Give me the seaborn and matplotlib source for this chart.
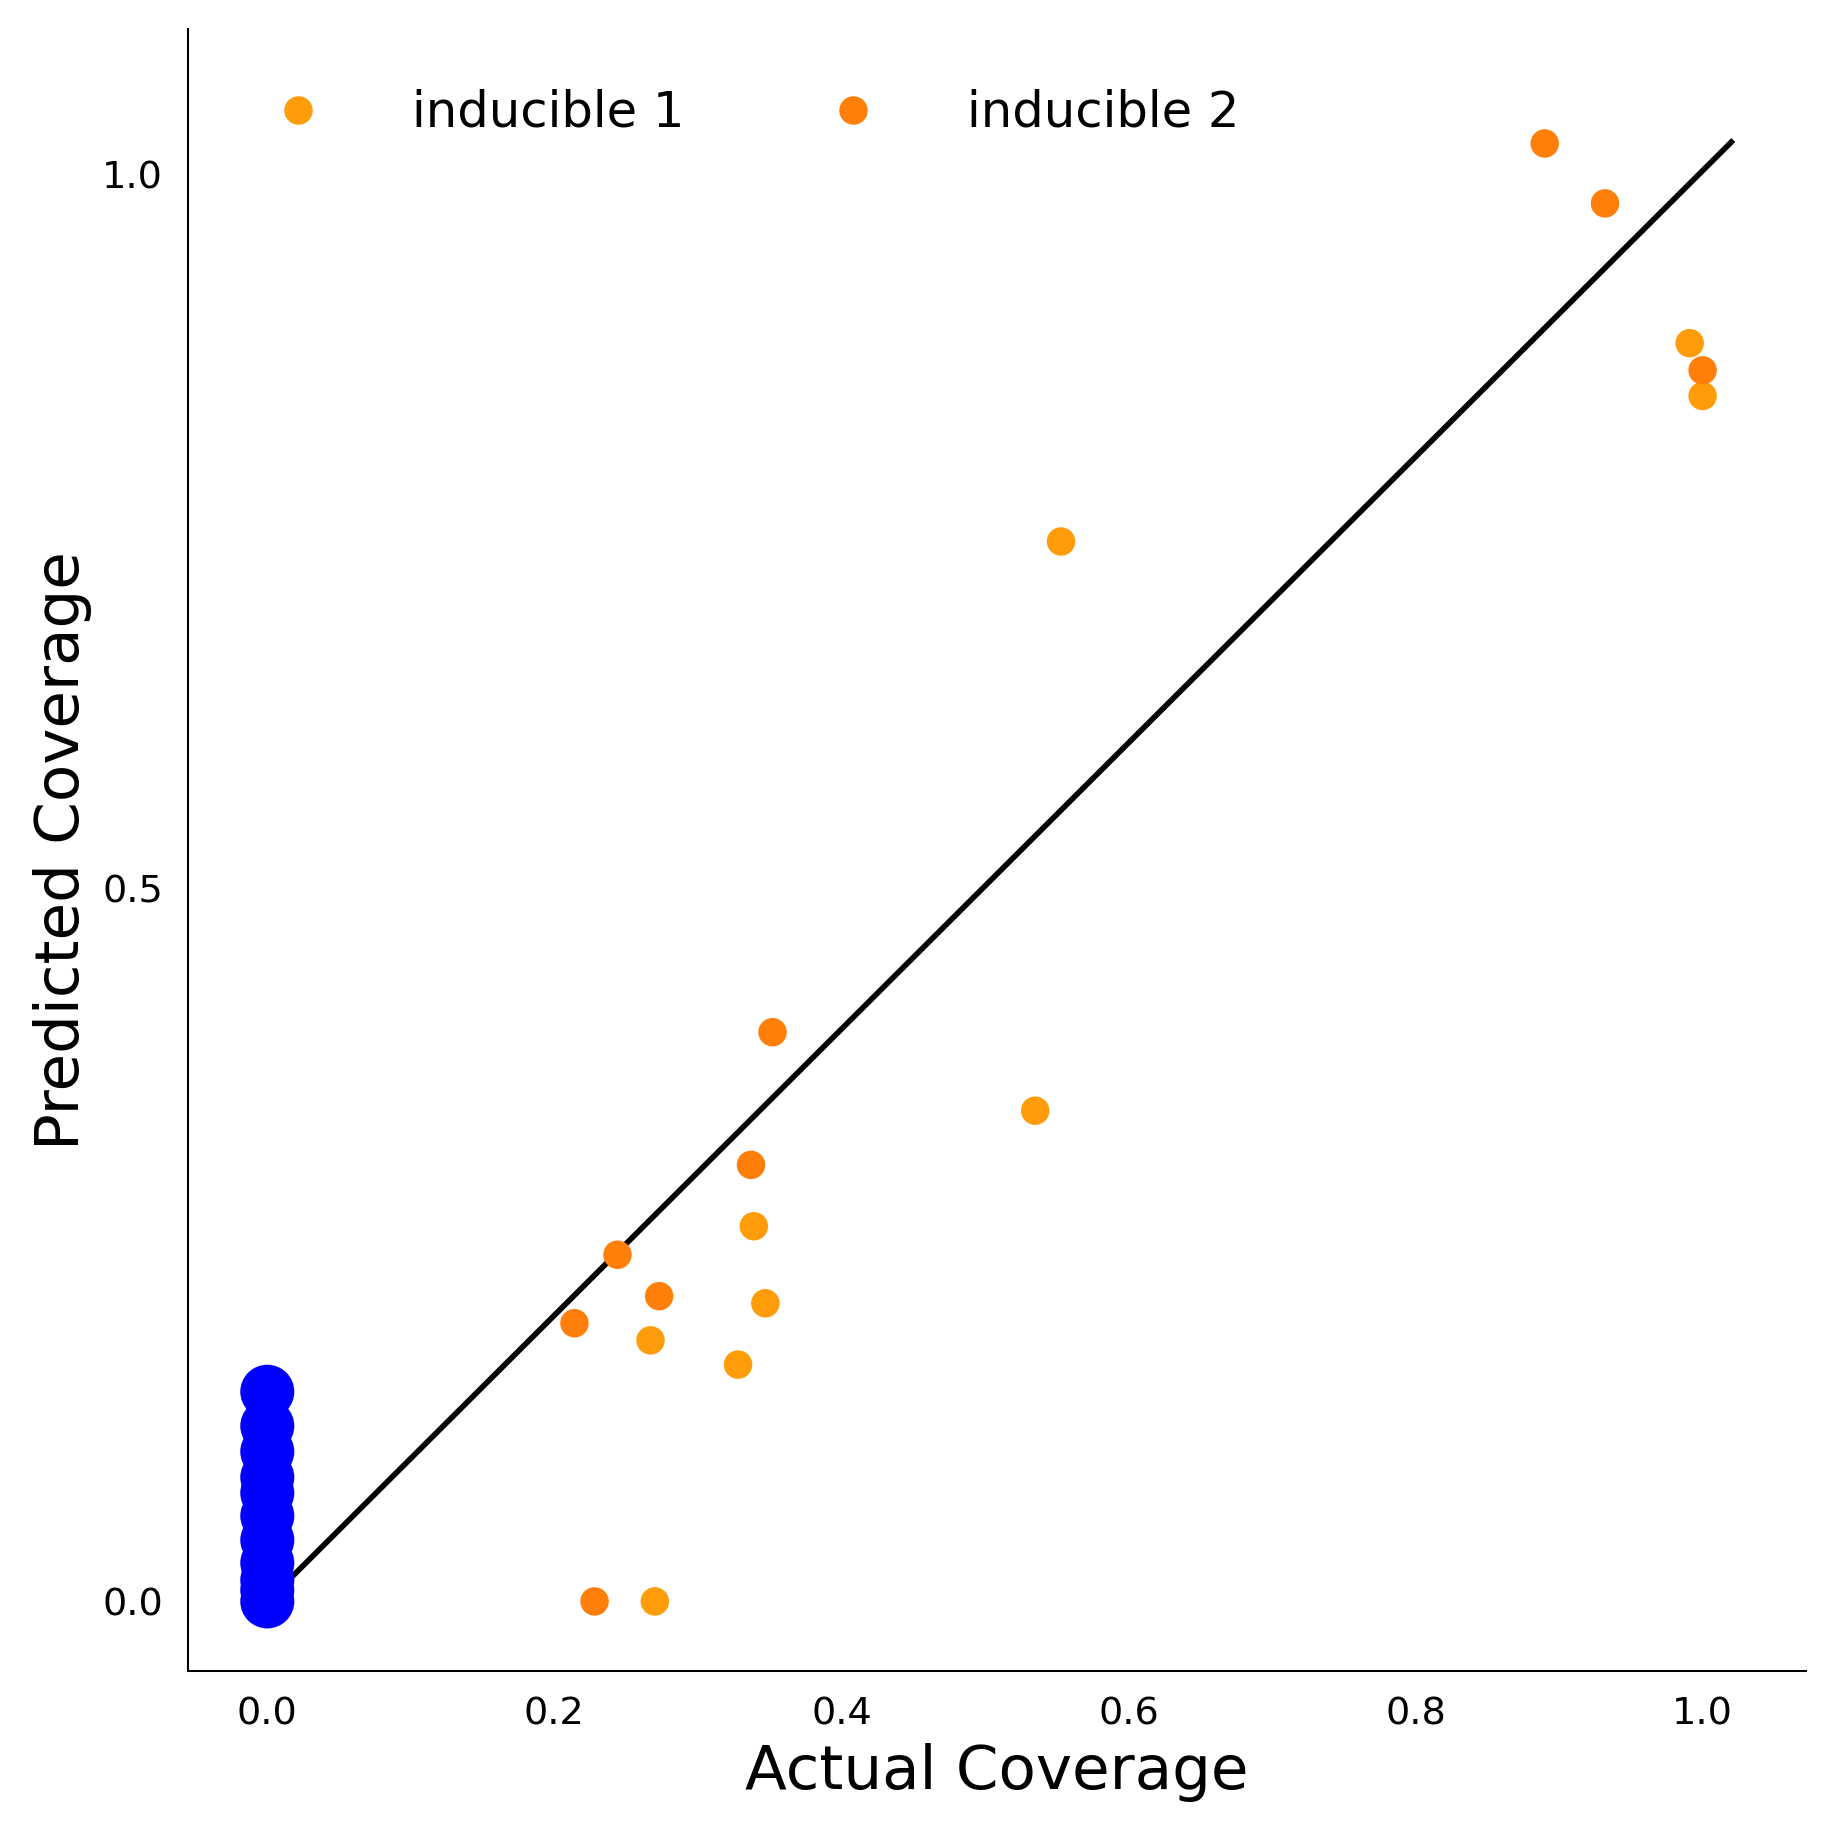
import matplotlib
matplotlib.use("Agg")
import matplotlib.pyplot as plt
import seaborn as sns
import pandas as pd

ind1_x = [0.991, 1.0, 0.553, 0.535, 0.339, 0.347, 0.267, 0.328, 0.270]
ind1_y = [0.882, 0.845, 0.743, 0.344, 0.263, 0.209, 0.183, 0.166, 0.0]
ind2_x = [0.890, 0.932, 1.0, 0.352, 0.337, 0.244, 0.273, 0.214, 0.228]
ind2_y = [1.022, 0.980, 0.863, 0.399, 0.306, 0.243, 0.214, 0.195, 0.0]
blue_y = [0.147, 0.123, 0.105, 0.087, 0.076, 0.060, 0.043, 0.027, 0.015, 0.008, 0.0]
blue_x = [0.0] * len(blue_y)
line_x = [0.0, 1.02]
line_y = [0.0, 1.023]

df = pd.DataFrame({
    "x": ind1_x + ind2_x,
    "y": ind1_y + ind2_y,
    "group": ["inducible 1"] * len(ind1_x) + ["inducible 2"] * len(ind2_x),
})

fig = plt.figure(figsize=(10, 10), dpi=183.4)
ax = fig.add_axes([0.1027, 0.0887, 0.882, 0.8953])
sns.scatterplot(x=blue_x, y=blue_y, color="#0000ff", s=450, edgecolor="none", ax=ax, legend=False, zorder=3)
ax.plot(line_x, line_y, color="black", lw=2.2, zorder=2)
sns.scatterplot(data=df, x="x", y="y", hue="group",
                palette={"inducible 1": "#ff9c0a", "inducible 2": "#ff7f0a"},
                s=125, edgecolor="none", ax=ax, zorder=4)
ax.set_xlim(-0.055, 1.072)
ax.set_ylim(-0.049, 1.102)
ax.set_xticks([0, 0.2, 0.4, 0.6, 0.8, 1.0])
ax.set_yticks([0, 0.5, 1.0])
ax.tick_params(length=0, labelsize=15, pad=10)
ax.set_xlabel("Actual Coverage", fontsize=24)
ax.set_ylabel("Predicted Coverage", fontsize=24)
for s in ["top", "right"]:
    ax.spines[s].set_visible(False)
leg = ax.legend(loc="upper left", ncol=2, frameon=False, fontsize=19.5,
                markerscale=1.0, columnspacing=2.4, handletextpad=1.3,
                borderaxespad=1.0, borderpad=0.2)
fig.savefig("out.png", dpi=183.4)
